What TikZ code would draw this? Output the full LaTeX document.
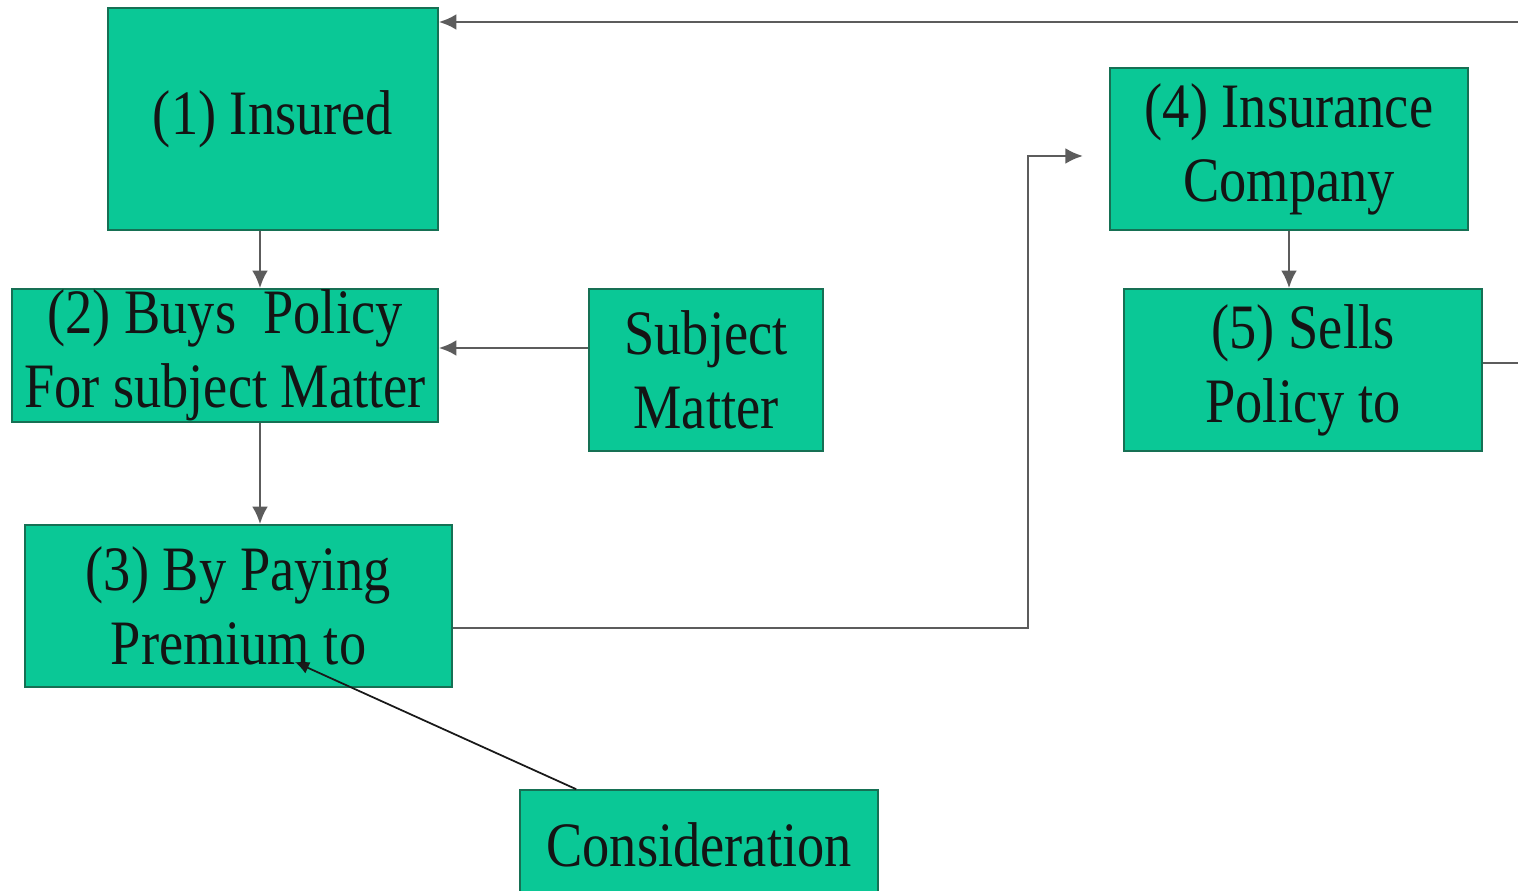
\documentclass[tikz,border=0pt]{standalone}
\usepackage{fontspec}
\setmainfont[FakeStretch=0.86]{Liberation Serif}
\usetikzlibrary{arrows.meta,calc}
\definecolor{boxgreen}{RGB}{10,200,150}
\definecolor{boxedge}{RGB}{22,112,84}
\definecolor{linegrey}{RGB}{92,92,92}
\tikzset{
	box/.style={
			draw=boxedge, fill=boxgreen, line width=0.9pt,
			align=center, inner sep=0pt, text=black!92,
			font=\fontsize{36}{42}\selectfont
		},
	conn/.style={draw=linegrey, line width=1.5pt, -{Latex[length=10pt,width=9pt]}},
	thinconn/.style={draw=black!90, line width=1pt, -{Latex[length=8pt,width=7pt]}}
}

\begin{document}
\begin{tikzpicture}
        \useasboundingbox (0,0) rectangle (30.36,-17.82);
        \node[box,minimum width=6.6cm,minimum height=4.44cm] (insured) at (5.46,-2.38) {(1) Insured};
        \node[box,minimum width=8.52cm,minimum height=2.66cm] (buys) at (4.5,-7.11) {(2) Buys\ \ Policy\\For subject Matter};
        \node[box,minimum width=4.68cm,minimum height=3.24cm] (subject) at (14.12,-7.4) {Subject\\Matter};
        \node[box,minimum width=8.54cm,minimum height=3.24cm] (paying) at (4.77,-12.12) {(3) By Paying\\Premium to};
        \node[box,minimum width=7.16cm,minimum height=2.2cm] (consid) at (13.98,-16.9) {Consideration};
        \node[box,minimum width=7.16cm,minimum height=3.24cm] (company) at (25.78,-2.98) {(4) Insurance\\Company};
        \node[box,minimum width=7.16cm,minimum height=3.24cm] (sells) at (26.06,-7.4) {(5) Sells\\Policy to};
        \coordinate (spine) at (5.2,0);
        \coordinate (row2) at (0,-6.96);
        \coordinate (row3) at (0,-12.56);
        \coordinate (bend3) at (20.56,-3.12);
        \coordinate (tip4) at (21.66,-3.12);
        \coordinate (row5) at (0,-7.26);
        \coordinate (top) at (0,-0.44);
        \coordinate (offpage) at (31,0);
        \draw[conn] (insured.south -| spine) -- (buys.north -| spine);
        \draw[conn] (subject.west |- row2) -- (buys.east |- row2);
        \draw[conn] (buys.south -| spine) -- (paying.north -| spine);
        \draw[conn] (paying.east |- row3) -| (bend3) -- (tip4);
        \draw[conn] (company.south) -- (company.south |- sells.north);
        \draw[conn] (sells.east |- row5) -| (offpage |- top) -- (insured.east |- top);
        \draw[thinconn] ([xshift=1.14cm]consid.north west) -- ([shift={(1.13,-1.12)}]paying.center);
    \end{tikzpicture}
\end{document}
